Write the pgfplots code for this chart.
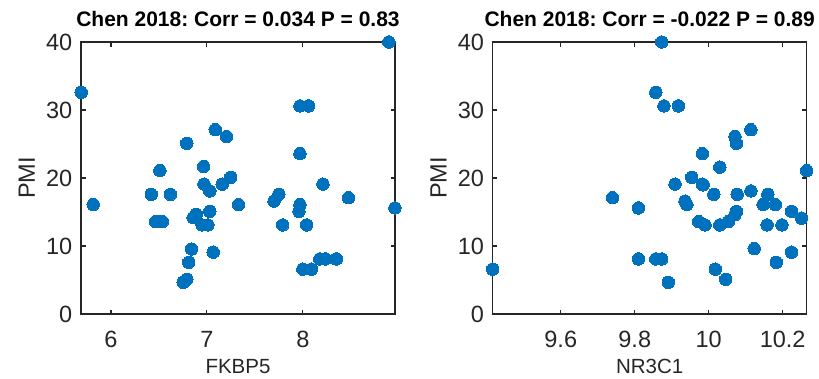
\documentclass[border=0pt]{standalone}
\usepackage{fontspec}
\setmainfont{Liberation Sans}
\usepackage{pgfplots}
\pgfplotsset{compat=1.18}
\definecolor{mblue}{HTML}{0072BD}
\definecolor{mgray}{HTML}{262626}
\frenchspacing
\pgfplotsset{
  mstyle/.style={
    scale only axis, width=314bp, height=272bp,
    clip=false,
    axis line style={mgray, line width=1.1bp},
    every tick/.style={mgray, line width=1.1bp},
    tick align=inside, major tick length=4.5bp,
    xtick pos=both, ytick pos=both,
    /pgf/number format/assume math mode=true,
    ymin=0, ymax=40, ytick={0,10,20,30,40},
    ticklabel style={font=\fontsize{23.5bp}{27bp}\selectfont, text=mgray},
    xticklabel style={anchor=base, inner sep=0pt, yshift=-33bp},
    yticklabel style={anchor=east, inner sep=0pt, xshift=-8.5bp},
    xlabel style={font=\fontsize{20.5bp}{24bp}\selectfont\frenchspacing, text=mgray, inner sep=0pt, at={(axis description cs:0.5,0)}, anchor=base, yshift=-59bp},
    ylabel style={font=\fontsize{23.5bp}{27bp}\selectfont, text=mgray, at={(axis description cs:-0.1465,0.5)}, anchor=base, rotate=0},
    title style={font=\bfseries\fontsize{21bp}{25bp}\selectfont\frenchspacing, text=black, at={(axis description cs:0.5,1)}, anchor=base, yshift=10bp},
  },
  mpts/.style={only marks, mark=*, mark size=6.25bp, mark options={fill=mblue, draw=mblue, line width=0pt}},
}
\begin{document}
\begin{tikzpicture}[x=1bp,y=1bp]
\path[use as bounding box] (0,0) rectangle (819,378);
\begin{axis}[mstyle, at={(81bp,64bp)}, anchor=south west,
  xmin=5.6875, xmax=8.961, xtick={6,7,8}, xticklabels={6,7,8},
  xlabel={FKBP5}, ylabel={PMI},
  title={Chen 2018: Corr = 0.034 P = 0.83}]
\addplot[mpts] coordinates {
(5.69,32.6) (5.815,16.1) (6.42,17.6) (6.51,21.1) (6.62,17.6)
(6.465,13.6) (6.535,13.6) (6.79,25.1) (6.966,21.7) (7.087,27.1)
(7.205,26.1) (6.97,19.1) (7.03,18.1) (7.16,19.1) (7.247,20.1)
(7.33,16.1) (6.89,14.66) (6.857,14.16) (7.03,15.1) (6.95,13.1)
(7.01,13.1) (6.84,9.56) (7.066,9.1) (6.81,7.6) (6.79,5.1)
(6.753,4.66) (8.896,40) (7.97,30.6) (8.06,30.6) (7.97,23.6)
(7.75,17.6) (7.70,16.6) (7.97,16.1) (7.96,15.1) (7.79,13.1)
(8.04,13.1) (8.21,19.1) (8.476,17.1) (8.96,15.6) (8.177,8.1)
(8.236,8.1) (8.35,8.1) (8.0,6.6) (8.09,6.6)
};
\end{axis}
\begin{axis}[mstyle, at={(492.7bp,64bp)}, anchor=south west,
  xmin=9.416, xmax=10.265, xtick={9.6,9.8,10,10.2}, xticklabels={9.6,9.8,10,10.2},
  xlabel={NR3C1}, ylabel={PMI},
  title={Chen 2018: Corr = -0.022 P = 0.89}]
\addplot[mpts] coordinates {
(9.416,6.6) (9.74,17.1) (9.81,15.6) (9.81,8.1) (9.873,40)
(9.857,32.6) (9.879,30.6) (9.918,30.6) (9.857,8.1) (9.873,8.1)
(9.891,4.66) (9.909,19.1) (9.954,20.1) (9.983,23.6) (9.983,19.1)
(9.985,19.0) (9.936,16.6) (9.941,16.1) (9.973,13.6) (9.99,13.1)
(10.014,17.6) (10.03,21.6) (10.03,13.1) (10.053,13.6) (10.018,6.6)
(10.046,5.1) (10.071,26.1) (10.075,25.1) (10.114,27.1) (10.075,15.1)
(10.071,14.6) (10.077,17.6) (10.114,18.1) (10.123,9.6) (10.16,17.6)
(10.147,16.1) (10.18,16.1) (10.158,13.1) (10.198,13.1) (10.183,7.6)
(10.224,15.1) (10.224,9.1) (10.251,14.1) (10.265,21.1)
};
\end{axis}
\end{tikzpicture}
\end{document}
